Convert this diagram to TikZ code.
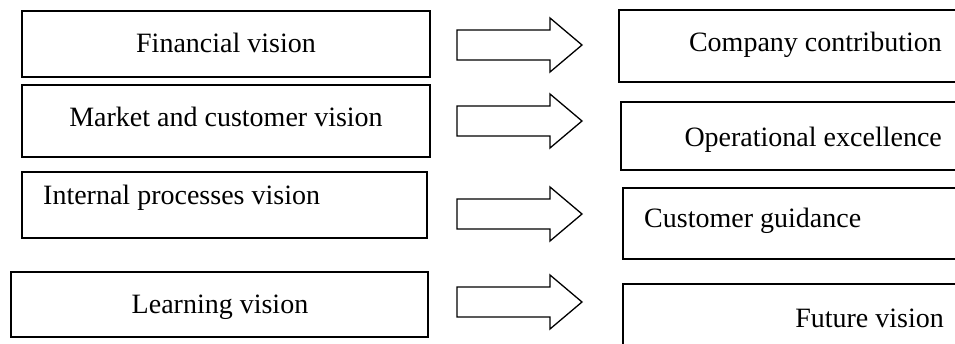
\documentclass[tikz,border=0pt]{standalone}
\usepackage{fontspec}
\setmainfont{Liberation Serif}
\begin{document}
\begin{tikzpicture}[x=1pt, y=-1pt,
  box/.style={draw=black, line width=1.4pt, inner sep=0pt, outer sep=0pt, fill=white},
  txt/.style={inner sep=0pt, font=\fontsize{28}{32}\selectfont},
  fatarrow/.pic={\draw[line width=1.3pt, line join=miter]
      (0,-15) -- (93,-15) -- (93,-27) -- (125,0) -- (93,27) -- (93,15) -- (0,15) -- cycle;}]
\useasboundingbox (0,0) rectangle (955,344);

% left column: the four visions
\node[box, minimum width=408pt, minimum height=66pt] (fin) at (226,44) {};
\node[box, minimum width=408pt, minimum height=72pt] (mkt) at (226,121) {};
\node[box, minimum width=405pt, minimum height=66pt] (int) at (224.5,205) {};
\node[box, minimum width=417pt, minimum height=65pt] (lrn) at (219.5,304.5) {};

\node[txt, anchor=base] (fint) at (226,53) {Financial vision};
\node[txt, anchor=base] (mktt) at (226,127) {Market and customer vision};
\node[txt, anchor=base west] (intt) at (43,205) {Internal processes vision};
\node[txt, anchor=base] (lrnt) at (220,313) {Learning vision};

% block arrows between the columns
\coordinate (a1) at (457,45);
\coordinate (a2) at (457,121);
\coordinate (a3) at (457,214);
\coordinate (a4) at (457,302);
\pic at (a1) {fatarrow};
\pic at (a2) {fatarrow};
\pic at (a3) {fatarrow};
\pic at (a4) {fatarrow};

% right column: boxes run past the right edge
\begin{scope}
\clip (0,0) rectangle (955,344);
\node[box, minimum width=400pt, minimum height=72pt] (ccon) at (819,46) {};
\node[box, minimum width=400pt, minimum height=68pt] (opex) at (821,136) {};
\node[box, minimum width=400pt, minimum height=71pt] (cgui) at (823,223.5) {};
\node[box, minimum width=400pt, minimum height=90pt] (futv) at (823,329) {};
\end{scope}

\node[txt, anchor=base east] (ccont) at (942,52) {Company contribution};
\node[txt, anchor=base east] (opext) at (942,147) {Operational excellence};
\node[txt, anchor=base west] (cguit) at (644,228) {Customer guidance};
\node[txt, anchor=base east] (futvt) at (944,327) {Future vision};
\end{tikzpicture}
\end{document}
